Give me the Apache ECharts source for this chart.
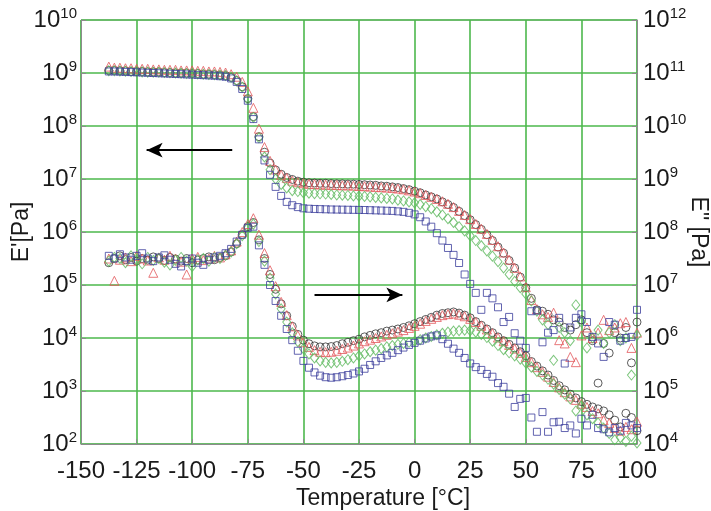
<!DOCTYPE html>
<html>
<head>
<meta charset="utf-8">
<script src="https://cdn.jsdelivr.net/npm/echarts@6/dist/echarts.min.js"></script>
<style>
  html, body { margin: 0; padding: 0; background: #fff; }
  #chart { width: 711px; height: 511px; }
</style>
</head>
<body>
<div id="chart"></div>
<script>
// temperature [°C]
const temps = [
  -137.5, -135, -132.5, -130, -127.5, -125, -122.5, -120, -117.5, -115,
  -112.5, -110, -107.5, -105, -102.5, -100, -97.5, -95, -92.5, -90,
  -87.5, -85, -82.5, -80, -77.5, -75, -72.5, -70, -67.5, -65,
  -62.5, -60, -57.5, -55, -52.5, -50, -47.5, -45, -42.5, -40,
  -37.5, -35, -32.5, -30, -27.5, -25, -22.5, -20, -17.5, -15,
  -12.5, -10, -7.5, -5, -2.5, 0, 2.5, 5, 7.5, 10,
  12.5, 15, 17.5, 20, 22.5, 25, 27.5, 30, 32.5, 35,
  37.5, 40, 42.5, 45, 47.5, 50, 52.5, 55, 57.5, 60,
  62.5, 65, 67.5, 70, 72.5, 75, 77.5, 80, 82.5, 85,
  87.5, 90, 92.5, 95, 97.5, 100
];

// E' [Pa] (left axis)
const storageBlack = [
  1.12e9, 1.12e9, 1.1e9, 1.1e9, 1.07e9, 1.07e9, 1.07e9, 1.05e9, 1.05e9, 1.05e9,
  1.02e9, 1.02e9, 1.0e9, 1.0e9, 1.0e9, 9.8e8, 9.8e8, 9.5e8, 9.5e8, 9.3e8,
  9.1e8, 8.9e8, 8.3e8, 7.2e8, 5.5e8, 3.3e8, 1.5e8, 6.3e7, 3.2e7, 2.0e7,
  1.48e7, 1.23e7, 1.07e7, 9.8e6, 9.1e6, 8.7e6, 8.5e6, 8.4e6, 8.3e6, 8.3e6,
  8.2e6, 8.1e6, 8.1e6, 8.0e6, 8.0e6, 7.9e6, 7.8e6, 7.7e6, 7.6e6, 7.4e6,
  7.3e6, 7.1e6, 6.9e6, 6.6e6, 6.3e6, 5.9e6, 5.5e6, 5.0e6, 4.6e6, 4.2e6,
  3.7e6, 3.3e6, 2.9e6, 2.45e6, 2.04e6, 1.7e6, 1.38e6, 1.12e6, 8.9e5, 6.9e5,
  5.2e5, 4.0e5, 2.9e5, 2.1e5, 1.41e5, 8.9e4, 5.6e4, 3.4e4, 3.2e4, 2.8e4,
  2.2e4, 2.0e4, 1.58e4, 1.41e4, 1.78e4, 2.2e4, 1.26e4, 8.9e3, 1.41e3, 7.9e3,
  5.2e3, 1.26e4, 1.0e4, 1.58e4, 3.4e3, 2.0e4
];
const storageRed = [
  1.32e9, 1.26e9, 1.26e9, 1.23e9, 1.23e9, 1.2e9, 1.2e9, 1.2e9, 1.17e9, 1.17e9,
  1.15e9, 1.15e9, 1.15e9, 1.12e9, 1.12e9, 1.12e9, 1.1e9, 1.1e9, 1.07e9, 1.07e9,
  1.05e9, 1.02e9, 9.5e8, 8.5e8, 6.8e8, 4.5e8, 2.2e8, 8.9e7, 4.0e7, 2.2e7,
  1.51e7, 1.2e7, 1.05e7, 9.3e6, 8.7e6, 8.3e6, 8.1e6, 8.0e6, 7.9e6, 7.8e6,
  7.8e6, 7.7e6, 7.6e6, 7.6e6, 7.5e6, 7.4e6, 7.3e6, 7.2e6, 7.1e6, 7.0e6,
  6.9e6, 6.8e6, 6.6e6, 6.4e6, 6.1e6, 5.8e6, 5.4e6, 5.0e6, 4.6e6, 4.2e6,
  3.8e6, 3.4e6, 2.95e6, 2.5e6, 2.1e6, 1.75e6, 1.42e6, 1.15e6, 9.2e5, 7.1e5,
  5.4e5, 4.1e5, 3.0e5, 2.1e5, 1.45e5, 9.1e4, 5.2e4, 3.5e4, 2.8e4, 2.5e4,
  3.0e4, 9.1e3, 7.9e3, 4.4e3, 3.5e3, 1.12e4, 1.58e4, 1.0e4, 1.26e4, 2.2e4,
  1.41e4, 1.58e4, 1.9e4, 2.0e4, 6.5e3, 1.26e4
];
const storageGreen = [
  1.1e9, 1.1e9, 1.09e9, 1.08e9, 1.07e9, 1.06e9, 1.05e9, 1.04e9, 1.03e9, 1.03e9,
  1.02e9, 1.01e9, 1.0e9, 9.9e8, 9.8e8, 9.7e8, 9.6e8, 9.5e8, 9.4e8, 9.3e8,
  9.2e8, 9.0e8, 8.3e8, 7.1e8, 5.4e8, 3.2e8, 1.45e8, 6.0e7, 2.6e7, 1.5e7,
  1.0e7, 7.9e6, 6.8e6, 6.0e6, 5.8e6, 5.5e6, 5.4e6, 5.3e6, 5.25e6, 5.2e6,
  5.1e6, 5.0e6, 4.95e6, 4.9e6, 4.8e6, 4.75e6, 4.7e6, 4.6e6, 4.5e6, 4.4e6,
  4.3e6, 4.2e6, 4.0e6, 3.85e6, 3.7e6, 3.55e6, 3.3e6, 3.0e6, 2.75e6, 2.4e6,
  2.1e6, 1.78e6, 1.51e6, 1.26e6, 1.05e6, 8.5e5, 6.9e5, 5.5e5, 4.4e5, 3.5e5,
  2.75e5, 2.1e5, 1.58e5, 1.17e5, 8.9e4, 6.8e4, 5.0e4, 3.2e4, 2.2e4, 1.78e4,
  3.8e3, 1.58e4, 1.26e4, 8.9e3, 4.2e4, 2.0e4, 6.5e3, 1.0e4, 1.41e4, 7.9e3,
  1.26e4, 1.78e4, 8.9e3, 1.0e4, 2.0e3, 1.12e4
];
const storageBlue = [
  1.07e9, 1.07e9, 1.06e9, 1.05e9, 1.04e9, 1.03e9, 1.02e9, 1.01e9, 1.0e9, 9.9e8,
  9.8e8, 9.7e8, 9.6e8, 9.5e8, 9.4e8, 9.3e8, 9.2e8, 9.1e8, 9.0e8, 8.9e8,
  8.7e8, 8.5e8, 7.9e8, 6.8e8, 5.0e8, 3.0e8, 1.35e8, 5.6e7, 2.24e7, 1.2e7,
  7.1e6, 4.8e6, 3.7e6, 3.2e6, 2.95e6, 2.8e6, 2.75e6, 2.72e6, 2.7e6, 2.68e6,
  2.66e6, 2.65e6, 2.64e6, 2.63e6, 2.62e6, 2.61e6, 2.6e6, 2.58e6, 2.56e6, 2.54e6,
  2.52e6, 2.5e6, 2.45e6, 2.4e6, 2.3e6, 2.15e6, 1.9e6, 1.58e6, 1.26e6, 9.5e5,
  6.9e5, 5.0e5, 3.7e5, 2.6e5, 1.58e5, 1.05e5, 7.1e4, 3.4e4, 7.1e4, 5.6e4,
  3.8e4, 2.0e4, 2.5e4, 1.23e4, 8.9e3, 6.5e3, 3.2e4, 3.3e4, 8.3e3, 1.26e4,
  1.41e4, 2.4e4, 3.3e3, 1.58e4, 2.4e4, 2.8e4, 2.0e4, 1.05e4, 7.9e3, 4.4e3,
  2.0e4, 1.78e4, 8.9e3, 1.0e4, 1.05e4, 3.4e4
];

// E" [Pa] (right axis)
const lossBlack = [
  2.63e7, 3.16e7, 3.55e7, 3.0e7, 3.31e7, 2.82e7, 3.16e7, 2.95e7, 3.39e7, 3.16e7,
  2.9e7, 3.31e7, 3.1e7, 2.82e7, 3.16e7, 2.63e7, 2.95e7, 3.16e7, 3.39e7, 3.0e7,
  3.31e7, 3.55e7, 4.2e7, 6.0e7, 8.9e7, 1.26e8, 1.51e8, 7.1e7, 3.16e7, 1.58e7,
  8.3e6, 4.4e6, 2.63e6, 1.66e6, 1.17e6, 9.1e5, 7.8e5, 7.1e5, 6.8e5, 6.8e5,
  6.9e5, 7.2e5, 7.8e5, 8.3e5, 8.9e5, 9.5e5, 1.05e6, 1.12e6, 1.2e6, 1.26e6,
  1.35e6, 1.41e6, 1.48e6, 1.58e6, 1.7e6, 1.86e6, 2.04e6, 2.24e6, 2.45e6, 2.7e6,
  2.9e6, 3.0e6, 3.1e6, 2.95e6, 2.7e6, 2.4e6, 2.04e6, 1.74e6, 1.48e6, 1.26e6,
  1.05e6, 8.9e5, 7.6e5, 6.5e5, 5.5e5, 4.6e5, 3.6e5, 2.95e5, 2.4e5, 2.0e5,
  1.58e5, 1.26e5, 1.05e5, 8.7e4, 7.4e4, 6.3e4, 5.6e4, 5.0e4, 4.6e4, 4.2e4,
  3.55e4, 2.82e4, 2.1e4, 3.8e4, 3.16e4, 1.78e4
];
const lossRed = [
  3.16e7, 1.2e7, 3.0e7, 3.31e7, 2.82e7, 3.55e7, 3.16e7, 2.9e7, 1.7e7, 3.31e7,
  3.0e7, 3.55e7, 3.16e7, 2.75e7, 1.58e7, 3.16e7, 3.39e7, 2.95e7, 3.16e7, 3.55e7,
  3.31e7, 3.8e7, 4.5e7, 6.6e7, 1.0e8, 1.41e8, 1.82e8, 8.9e7, 4.0e7, 1.9e7,
  9.5e6, 4.8e6, 2.7e6, 1.66e6, 1.12e6, 8.3e5, 6.8e5, 5.9e5, 5.5e5, 5.4e5,
  5.5e5, 5.75e5, 6.2e5, 6.6e5, 7.2e5, 7.9e5, 8.7e5, 9.3e5, 1.0e6, 1.07e6,
  1.15e6, 1.23e6, 1.32e6, 1.41e6, 1.55e6, 1.7e6, 1.86e6, 2.1e6, 2.3e6, 2.5e6,
  2.7e6, 2.82e6, 2.9e6, 2.75e6, 2.57e6, 2.3e6, 2.0e6, 1.7e6, 1.45e6, 1.23e6,
  1.02e6, 8.7e5, 7.4e5, 6.3e5, 5.25e5, 4.4e5, 3.5e5, 2.82e5, 2.3e5, 1.86e5,
  1.48e5, 1.17e5, 9.5e4, 7.9e4, 6.8e4, 5.75e4, 5.0e4, 4.2e4, 3.8e4, 2.82e4,
  2.5e4, 2.0e4, 1.78e4, 2.1e4, 1.9e4, 2.63e4
];
const lossGreen = [
  2.82e7, 3.31e7, 3.16e7, 2.63e7, 3.55e7, 3.0e7, 2.51e7, 3.31e7, 2.9e7, 3.16e7,
  2.69e7, 2.4e7, 2.95e7, 3.31e7, 2.82e7, 2.24e7, 3.0e7, 3.16e7, 2.82e7, 3.31e7,
  3.16e7, 3.63e7, 4.2e7, 6.0e7, 8.5e7, 1.2e8, 1.41e8, 6.6e7, 2.82e7, 1.35e7,
  6.8e6, 3.55e6, 2.0e6, 1.26e6, 8.5e5, 6.3e5, 5.0e5, 4.2e5, 3.7e5, 3.47e5,
  3.39e5, 3.47e5, 3.63e5, 3.9e5, 4.2e5, 4.6e5, 5.0e5, 5.5e5, 5.9e5, 6.3e5,
  6.8e5, 7.2e5, 7.6e5, 7.9e5, 8.3e5, 8.7e5, 9.3e5, 1.0e6, 1.07e6, 1.15e6,
  1.23e6, 1.29e6, 1.35e6, 1.38e6, 1.41e6, 1.38e6, 1.29e6, 1.17e6, 1.02e6, 8.7e5,
  7.2e5, 6.0e5, 5.25e5, 4.6e5, 4.0e5, 3.39e5, 2.82e5, 2.34e5, 2.0e5, 1.66e5,
  1.35e5, 1.07e5, 8.7e4, 7.1e4, 4.2e4, 5.25e4, 3.55e4, 3.0e4, 2.5e4, 2.0e4,
  1.58e4, 1.2e4, 1.32e4, 1.12e4, 1.41e4, 1.05e4
];
const lossBlue = [
  3.55e7, 3.16e7, 3.8e7, 3.31e7, 3.0e7, 3.55e7, 3.98e7, 3.16e7, 2.82e7, 3.31e7,
  3.63e7, 3.0e7, 2.51e7, 2.24e7, 2.82e7, 3.16e7, 2.63e7, 2.4e7, 3.0e7, 3.31e7,
  3.55e7, 3.98e7, 4.8e7, 6.6e7, 8.9e7, 1.2e8, 1.26e8, 5.6e7, 2.4e7, 1.0e7,
  5.0e6, 2.63e6, 1.48e6, 9.1e5, 5.75e5, 3.7e5, 2.75e5, 2.24e5, 1.95e5, 1.82e5,
  1.78e5, 1.82e5, 1.9e5, 2.0e5, 2.14e5, 2.34e5, 2.63e5, 3.1e5, 3.63e5, 4.2e5,
  4.7e5, 5.25e5, 5.9e5, 6.6e5, 7.4e5, 8.1e5, 8.9e5, 9.8e5, 1.07e6, 1.12e6,
  9.5e5, 7.8e5, 6.3e5, 5.25e5, 4.2e5, 3.31e5, 2.82e5, 2.5e5, 2.1e5, 1.86e5,
  1.41e5, 1.2e5, 8.9e4, 5.0e4, 7.1e4, 7.4e4, 3.16e4, 1.7e4, 4.0e4, 1.7e4,
  2.57e4, 2.63e4, 2.0e4, 2.24e4, 1.58e4, 3.0e4, 2.24e4, 3.55e4, 2.0e4, 1.9e4,
  1.66e4, 2.0e4, 1.78e4, 2.5e4, 2.24e4, 2.0e4
];

// arrows: [x, y] start and end, in data units of the left axis
const arrowLeft = [[-82, 3.5e7], [-120.5, 3.5e7]];
const arrowRight = [[-45, 6.5e4], [-5.5, 6.5e4]];

const FONT = 'Liberation Sans, Arial, sans-serif';
const TXT = '#1a1a1a';
const GRIDC = '#4db84d';

const chart = echarts.init(document.getElementById('chart'));

function pow10(v) {
  const e = Math.round(Math.log10(v));
  return '{b|10}{s|' + e + '}';
}

const labelRich = {
  b: { fontSize: 24, fontFamily: FONT, color: TXT },
  s: { fontSize: 15, fontFamily: FONT, color: TXT, padding: [0, 0, 12, 0] }
};

function pts(vals) {
  return temps.map((t, i) => [t, vals[i]]);
}

function dots(vals, axis, symbol, size, color) {
  return {
    type: 'scatter',
    yAxisIndex: axis,
    symbol: symbol,
    symbolSize: size,
    itemStyle: { color: 'rgba(0,0,0,0)', borderColor: color, borderWidth: 1 },
    emphasis: { disabled: true },
    silent: true,
    data: pts(vals)
  };
}

const cBlack = '#333333', cRed = '#e2565a', cGreen = '#5cb85c', cBlue = '#3c3f9c';

const series = [
  dots(storageBlack, 0, 'circle', 8, cBlack),
  dots(storageRed, 0, 'triangle', 9, cRed),
  dots(storageGreen, 0, 'diamond', [8, 10], cGreen),
  dots(storageBlue, 0, 'rect', 7, cBlue),
  dots(lossBlack, 1, 'circle', 8, cBlack),
  dots(lossRed, 1, 'triangle', 9, cRed),
  dots(lossGreen, 1, 'diamond', [8, 10], cGreen),
  dots(lossBlue, 1, 'rect', 7, cBlue)
];

// the two arrows
series[0].markLine = {
  silent: true,
  symbol: ['none', 'arrow'],
  symbolSize: [11, 16],
  label: { show: false },
  lineStyle: { color: '#000', width: 2, type: 'solid' },
  data: [
    [{ coord: arrowLeft[0] }, { coord: arrowLeft[1] }],
    [{ coord: arrowRight[0] }, { coord: arrowRight[1] }]
  ]
};

const option = {
  animation: false,
  backgroundColor: '#fff',
  grid: {
    left: 81, right: 74, top: 20, bottom: 67,
    outerBoundsMode: 'none',
    containLabel: false,
    show: true, borderColor: '#8c8c8c', borderWidth: 1
  },
  xAxis: {
    type: 'value',
    min: -150, max: 100, interval: 25,
    name: 'Temperature [°C]',
    nameLocation: 'middle',
    nameGap: 43,
    nameMoveOverlap: false,
    nameTextStyle: { fontSize: 23, fontFamily: FONT, color: TXT, padding: [0, 0, 0, 48] },
    axisLine: { onZero: false, lineStyle: { color: '#8c8c8c' } },
    axisTick: { inside: true, length: 5, lineStyle: { color: '#8c8c8c' } },
    axisLabel: { fontSize: 24, fontFamily: FONT, color: TXT, margin: 15 },
    splitLine: { show: true, lineStyle: { color: GRIDC, width: 1.6 } }
  },
  yAxis: [{
    type: 'log', logBase: 10,
    min: 1e2, max: 1e10, interval: 1,
    name: "E'[Pa]",
    nameLocation: 'middle',
    nameRotate: 90,
    nameGap: 48,
    nameMoveOverlap: false,
    nameTextStyle: { fontSize: 23, fontFamily: FONT, color: TXT },
    axisLine: { show: true, onZero: false, lineStyle: { color: '#8c8c8c' } },
    axisTick: { inside: true, length: 5, lineStyle: { color: '#8c8c8c' } },
    axisLabel: { formatter: pow10, rich: labelRich, margin: 4 },
    splitLine: { show: true, lineStyle: { color: GRIDC, width: 1.6 } }
  }, {
    type: 'log', logBase: 10,
    min: 1e4, max: 1e12, interval: 1,
    position: 'right',
    name: 'E" [Pa]',
    nameLocation: 'middle',
    nameRotate: -90,
    nameGap: 50,
    nameMoveOverlap: false,
    nameTextStyle: { fontSize: 23, fontFamily: FONT, color: TXT },
    axisLine: { show: true, onZero: false, lineStyle: { color: '#8c8c8c' } },
    axisTick: { inside: true, length: 5, lineStyle: { color: '#8c8c8c' } },
    axisLabel: { formatter: pow10, rich: labelRich, margin: 6 },
    splitLine: { show: false }
  }],
  series: series
};

chart.setOption(option, true);
</script>
</body>
</html>
